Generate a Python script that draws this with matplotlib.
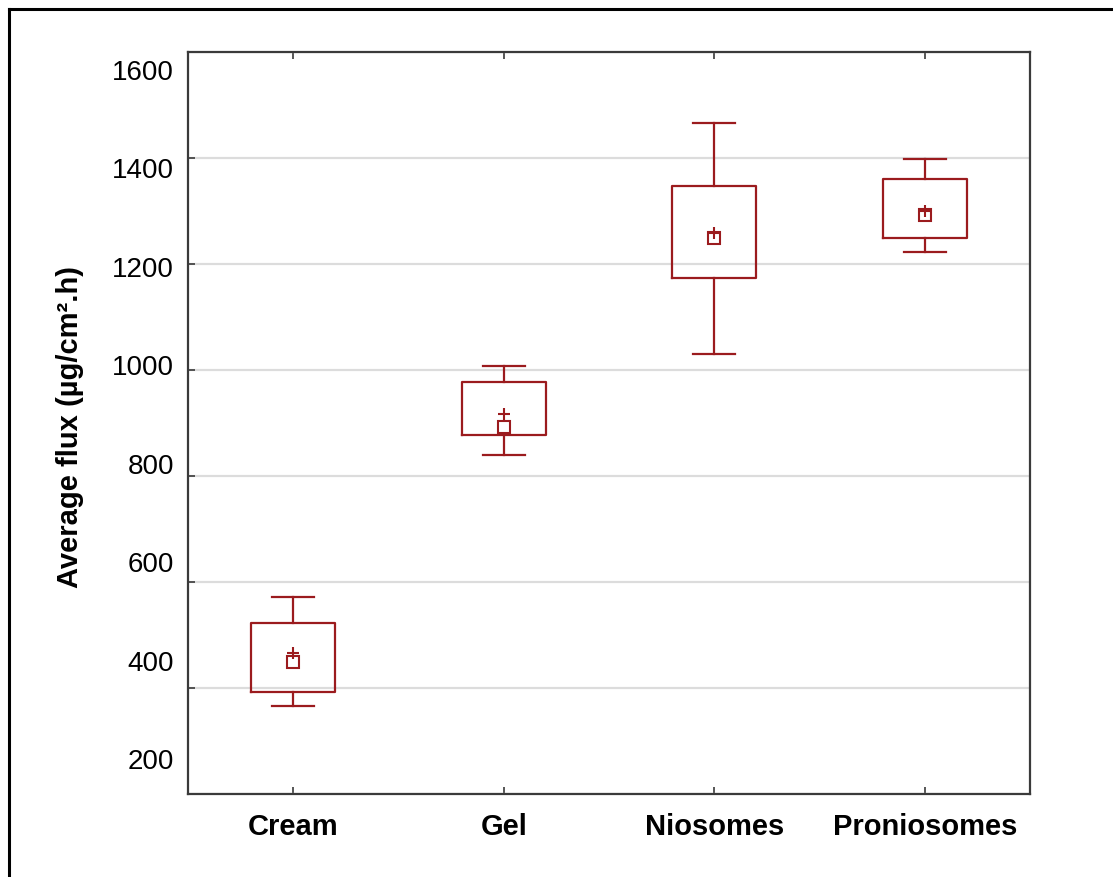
import matplotlib
matplotlib.use("Agg")
import matplotlib.pyplot as plt
from matplotlib.lines import Line2D

# Data
groups = ["Cream", "Gel", "Niosomes", "Proniosomes"]
whisker_low = [367, 840, 1030, 1223]
q1 = [393, 878, 1174, 1250]
median = [449, 892, 1249, 1292]
q3 = [522, 977, 1348, 1361]
whisker_high = [571, 1007, 1466, 1398]
mean = [466, 917, 1258, 1300]
yticks = [200, 400, 600, 800, 1000, 1200, 1400, 1600]

box_color = "#9b1b1e"
spine_color = "#3a3a3a"

plt.rcParams["font.family"] = ["Liberation Sans", "DejaVu Sans"]

fig = plt.figure(figsize=(11.13, 8.77), dpi=100)
ax = fig.add_axes([0.1689, 0.0946, 0.7565, 0.8461])

stats = []
for i, name in enumerate(groups):
    stats.append({
        "label": name,
        "whislo": whisker_low[i],
        "q1": q1[i],
        "med": median[i],
        "q3": q3[i],
        "whishi": whisker_high[i],
        "mean": mean[i],
        "fliers": [],
    })

positions = list(range(len(groups)))
line_kw = dict(color=box_color, linewidth=1.6)
ax.bxp(stats, positions=positions, widths=0.4, capwidths=0.2,
       showmeans=False, patch_artist=False,
       boxprops=line_kw, whiskerprops=line_kw, capprops=line_kw,
       medianprops=dict(linestyle="none"))
# median as a small open square, mean as a plus
ax.plot(positions, median, linestyle="none", marker="s", markersize=8,
        markerfacecolor="white", markeredgecolor=box_color,
        markeredgewidth=1.5, zorder=4)
ax.plot(positions, mean, linestyle="none", marker="+", markersize=9,
        markeredgewidth=1.5, color=box_color, zorder=5)

ax.set_xlim(-0.5, 3.5)
ax.set_ylim(200, 1600)
ax.set_xticks(positions)
ax.set_xticklabels(groups, fontsize=21, fontweight="bold")
ax.set_yticks(yticks)
ax.tick_params(axis="y", labelleft=False, direction="in", left=True,
               right=True, length=5, width=1.2, color=spine_color)
ax.tick_params(axis="x", direction="in", top=True, bottom=True, length=5,
               width=1.2, color=spine_color, pad=14)
ax.yaxis.grid(True, color="#dcdcdc", linewidth=1.6)
ax.set_axisbelow(True)
for s in ax.spines.values():
    s.set_color(spine_color)
    s.set_linewidth(1.6)

ax.set_ylabel("Average flux (µg/cm².h)", fontsize=21, fontweight="bold")
ax.yaxis.set_label_coords(-0.1235, 0.494)

# tick labels sit on their own, evenly spaced column as in the original
ax2 = ax.twinx()
ax2.set_ylim(128.8, 1636.7)
ax2.set_yticks(yticks)
ax2.yaxis.tick_left()
ax2.tick_params(axis="y", length=0, labelsize=20, pad=10)
for s in ax2.spines.values():
    s.set_visible(False)

# outer frame (only top and left edges are visible in the picture)
fig.add_artist(Line2D([0.0077, 1.0], [0.9903, 0.9903], color="black",
                      linewidth=2.2, transform=fig.transFigure))
fig.add_artist(Line2D([0.0077, 0.0077], [0.0, 0.9903], color="black",
                      linewidth=2.2, transform=fig.transFigure))

fig.savefig("out.png", dpi=100)
